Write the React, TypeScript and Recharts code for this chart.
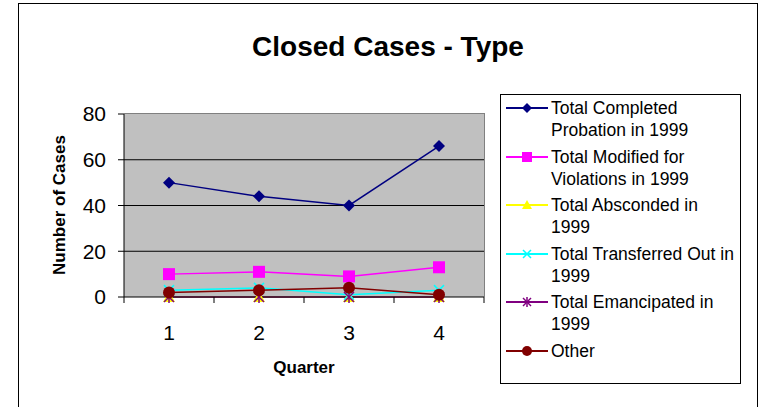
import React from "react";
import { LineChart, Line, XAxis, YAxis, CartesianGrid } from "recharts";

const quarters = ["1", "2", "3", "4"];
const completed = [50, 44, 40, 66];
const modified = [10, 11, 9, 13];
const absconded = [0, 0, 0, 0];
const transferred = [3, 4, 1, 3];
const emancipated = [0, 0, 0, 0];
const other = [2, 3, 4, 1];
const yTicks = [0, 20, 40, 60, 80];

const series = [
  { key: "completed", name: "Total Completed Probation in 1999", color: "#000080", shape: "diamond" },
  { key: "modified", name: "Total Modified for Violations in 1999", color: "#FF00FF", shape: "square" },
  { key: "absconded", name: "Total Absconded in 1999", color: "#FFFF00", shape: "triangle" },
  { key: "transferred", name: "Total Transferred Out in 1999", color: "#00FFFF", shape: "x" },
  { key: "emancipated", name: "Total Emancipated in 1999", color: "#800080", shape: "star" },
  { key: "other", name: "Other", color: "#800000", shape: "circle" },
];

const data = quarters.map((q, i) => ({
  q,
  completed: completed[i],
  modified: modified[i],
  absconded: absconded[i],
  transferred: transferred[i],
  emancipated: emancipated[i],
  other: other[i],
}));

const W = 768;
const H = 407;
const PLOT_LEFT = 124;
const PLOT_TOP = 114;
const PLOT_W = 360;
const PLOT_H = 183;
const HALF_BAND = PLOT_W / quarters.length / 2;
const FONT = "Arial, 'Liberation Sans', sans-serif";

const Marker = ({ shape, color, cx, cy, s = 6 }: any) => {
  switch (shape) {
    case "diamond":
      return <polygon points={`${cx},${cy - s} ${cx + s},${cy} ${cx},${cy + s} ${cx - s},${cy}`} fill={color} />;
    case "square":
      return <rect x={cx - s} y={cy - s} width={s * 2} height={s * 2} fill={color} />;
    case "triangle":
      return <polygon points={`${cx},${cy - s} ${cx + s},${cy + s - 1} ${cx - s},${cy + s - 1}`} fill={color} />;
    case "x":
      return (
        <g stroke={color} strokeWidth={1.5}>
          <line x1={cx - s + 1} y1={cy - s + 1} x2={cx + s - 1} y2={cy + s - 1} />
          <line x1={cx - s + 1} y1={cy + s - 1} x2={cx + s - 1} y2={cy - s + 1} />
        </g>
      );
    case "star":
      return (
        <g stroke={color} strokeWidth={1.5}>
          <line x1={cx - s + 1} y1={cy - s + 1} x2={cx + s - 1} y2={cy + s - 1} />
          <line x1={cx - s + 1} y1={cy + s - 1} x2={cx + s - 1} y2={cy - s + 1} />
          <line x1={cx} y1={cy - s} x2={cx} y2={cy + s} />
        </g>
      );
    default:
      return <circle cx={cx} cy={cy} r={s} fill={color} />;
  }
};

const QuarterTick = (props: any) => {
  const { x, y, payload, index } = props;
  return (
    <g>
      <line x1={x - HALF_BAND} x2={x - HALF_BAND} y1={y} y2={y + 6} stroke="#000" />
      {index === quarters.length - 1 && (
        <line x1={x + HALF_BAND} x2={x + HALF_BAND} y1={y} y2={y + 6} stroke="#000" />
      )}
      <text x={x} y={y + 43} textAnchor="middle" fontSize={21} fontFamily={FONT} fill="#000">
        {payload.value}
      </text>
    </g>
  );
};

const LegendBox = () => (
  <div
    style={{
      position: "absolute",
      left: 500,
      top: 94,
      width: 241,
      height: 290,
      border: "1px solid #000",
      boxSizing: "border-box",
      background: "#fff",
      paddingTop: 2,
    }}
  >
    {series.map((s) => (
      <div key={s.key} style={{ display: "flex", alignItems: "flex-start", marginBottom: 4.5 }}>
        <svg width={50} height={22} style={{ flex: "none" }}>
          <line x1={5} x2={47} y1={11} y2={11} stroke={s.color} strokeWidth={2} />
          <Marker shape={s.shape} color={s.color} cx={26} cy={11} s={5} />
        </svg>
        <div style={{ fontFamily: FONT, fontSize: 17.5, lineHeight: "22px", width: 188, color: "#000" }}>
          {s.name}
        </div>
      </div>
    ))}
  </div>
);

export default function App() {
  return (
    <div style={{ position: "absolute", left: 0, top: 0, width: W, height: H, overflow: "hidden", background: "#fff" }}>
      <div
        style={{
          position: "absolute",
          left: 18,
          top: 3,
          width: 740,
          height: 420,
          border: "1px solid #000",
          boxSizing: "border-box",
        }}
      />
      <div
        style={{
          position: "absolute",
          left: 18,
          width: 740,
          top: 30,
          textAlign: "center",
          fontFamily: FONT,
          fontWeight: "bold",
          fontSize: 28,
          lineHeight: "34px",
        }}
      >
        Closed Cases - Type
      </div>
      <div style={{ position: "absolute", left: 0, top: 0 }}>
        <LineChart
          width={W}
          height={H}
          data={data}
          margin={{ top: PLOT_TOP, right: W - PLOT_LEFT - PLOT_W, bottom: 0, left: 0 }}
        >
          <CartesianGrid
            fill="#C0C0C0"
            stroke="#000"
            vertical={false}
            horizontalValues={[20, 40, 60]}
          />
          <XAxis
            dataKey="q"
            height={H - PLOT_TOP - PLOT_H}
            padding={{ left: HALF_BAND, right: HALF_BAND }}
            axisLine={{ stroke: "#000" }}
            tickLine={false}
            tickSize={0}
            tickMargin={0}
            tick={<QuarterTick />}
          />
          <YAxis
            width={PLOT_LEFT}
            domain={[0, 80]}
            ticks={yTicks}
            interval={0}
            axisLine={{ stroke: "#000" }}
            tickLine={{ stroke: "#000" }}
            tickSize={6}
            tickMargin={12}
            tick={{ fontSize: 21, fill: "#000", fontFamily: FONT }}
          />
          {series.map((s) => (
            <Line
              key={s.key}
              dataKey={s.key}
              name={s.name}
              stroke={s.color}
              strokeWidth={1.5}
              type="linear"
              isAnimationActive={false}
              activeDot={false}
              dot={(p: any) => (
                <Marker key={`${s.key}-${p.index}`} shape={s.shape} color={s.color} cx={p.cx} cy={p.cy} />
              )}
            />
          ))}
        </LineChart>
      </div>
      {/* grey frame on the top and right of the plot area */}
      <div
        style={{
          position: "absolute",
          left: PLOT_LEFT,
          top: PLOT_TOP - 1,
          width: PLOT_W,
          height: PLOT_H,
          borderTop: "1px solid #808080",
          borderRight: "1px solid #808080",
          pointerEvents: "none",
        }}
      />
      <div
        style={{
          position: "absolute",
          left: -40,
          top: 195,
          width: 200,
          height: 20,
          transform: "rotate(-90deg)",
          textAlign: "center",
          fontFamily: FONT,
          fontWeight: "bold",
          fontSize: 17,
          lineHeight: "20px",
        }}
      >
        Number of Cases
      </div>
      <div
        style={{
          position: "absolute",
          left: 204,
          top: 358,
          width: 200,
          textAlign: "center",
          fontFamily: FONT,
          fontWeight: "bold",
          fontSize: 17,
          lineHeight: "20px",
        }}
      >
        Quarter
      </div>
      <LegendBox />
    </div>
  );
}
